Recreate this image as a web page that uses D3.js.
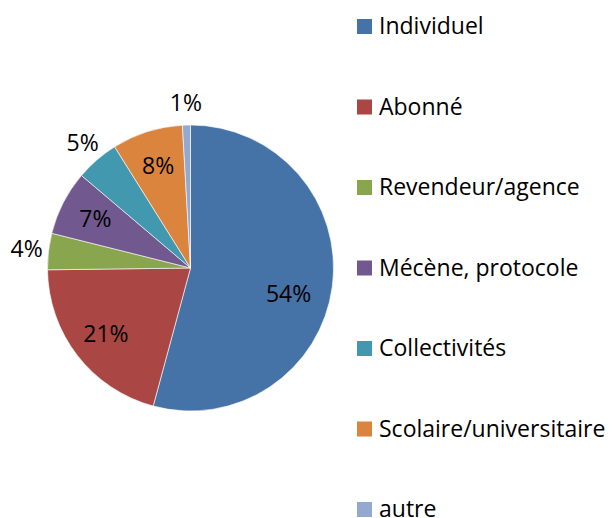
<!DOCTYPE html>
<html>
<head>
<meta charset="utf-8">
<script src="https://cdn.jsdelivr.net/npm/d3@7"></script>
<style>
  body { margin: 0; background: #ffffff; }
  text { font-family: "Open Sans", "Noto Sans", sans-serif; fill: #000000; }
</style>
</head>
<body>
<div id="chart"></div>
<script>
// data
const categories = ["Individuel", "Abonné", "Revendeur/agence", "Mécène, protocole", "Collectivités", "Scolaire/universitaire", "autre"];
const shares = [54.2, 20.6, 4.1, 7.3, 4.9, 8.0, 0.9];
const colors = ["#4572A7", "#AA4643", "#89A54E", "#71588F", "#4198AF", "#DB843D", "#93A9CF"];

const data = categories.map((c, i) => ({ name: c, value: shares[i], color: colors[i] }));

const width = 612, height = 518;
const cx = 190.5, cy = 268, radius = 143;

const svg = d3.select("#chart")
  .append("svg")
  .attr("width", width)
  .attr("height", height);

const pie = d3.pie()
  .sort(null)
  .value(d => d.value);

const arcs = pie(data);

const arc = d3.arc().innerRadius(0).outerRadius(radius);
const insideArc = d3.arc().innerRadius(107).outerRadius(107);
const outsideArc = d3.arc().innerRadius(165).outerRadius(165);

const g = svg.append("g")
  .attr("transform", `translate(${cx}, ${cy})`);

g.selectAll("path.slice")
  .data(arcs)
  .enter()
  .append("path")
  .attr("class", "slice")
  .attr("d", arc)
  .style("fill", d => d.data.color)
  .style("stroke", "#ffffff")
  .style("stroke-width", 0.6);

// small slices get their label outside the pie
g.selectAll("text.lbl")
  .data(arcs)
  .enter()
  .append("text")
  .attr("class", "lbl")
  .attr("transform", d => {
      const p = d.data.value < 6 ? outsideArc.centroid(d) : insideArc.centroid(d);
      // the big slice label sits a bit lower, as in the original
      if (d.data.value > 50) { p[0] -= 8; p[1] += 12; }
      return `translate(${p[0]}, ${p[1]})`;
  })
  .attr("text-anchor", "middle")
  .attr("dy", "0.36em")
  .style("font-size", "23px")
  .text(d => Math.round(d.data.value) + "%");

// legend
const legend = svg.append("g")
  .attr("transform", "translate(357, 0)");

const rowY = d3.scalePoint()
  .domain(categories)
  .range([26.5, 509.5]);

const item = legend.selectAll("g.item")
  .data(data)
  .enter()
  .append("g")
  .attr("class", "item")
  .attr("transform", d => `translate(0, ${rowY(d.name)})`);

item.append("rect")
  .attr("x", 0)
  .attr("y", -7.5)
  .attr("width", 15)
  .attr("height", 15)
  .style("fill", d => d.color);

item.append("text")
  .attr("x", 22)
  .attr("y", 7.5)
  .style("font-size", "23px")
  .text(d => d.name);
</script>
</body>
</html>
